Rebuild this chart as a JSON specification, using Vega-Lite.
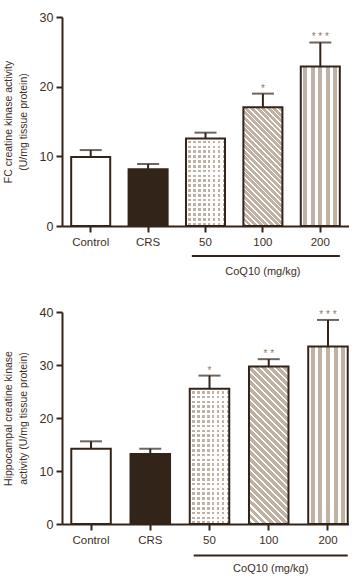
{
  "$schema": "https://vega.github.io/schema/vega-lite/v6.json",
  "autosize": {"type": "pad"},
  "padding": {"left": 3, "top": 11, "right": 0, "bottom": 0},
  "background": "#ffffff",
  "bounds": "flush",
  "spacing": 86,
  "config": {
    "view": {"stroke": null},
    "axis": {"domainColor": "#33241a", "domainWidth": 2, "tickColor": "#33241a", "tickWidth": 2, "labelFont": "Liberation Sans", "labelColor": "#3c2f27", "labelFontSize": 11.5, "titleFont": "Liberation Sans", "titleColor": "#3c2f27", "titleFontWeight": "normal", "grid": false},
    "text": {"font": "Liberation Sans"}
  },
  "vconcat": [
    {
      "width": 287,
      "height": 209,
      "data": {"values": [
        {"group": "Control", "value": 9.9, "hi": 10.9, "sig": ""},
        {"group": "CRS", "value": 8.15, "hi": 8.9, "sig": ""},
        {"group": "50", "value": 12.55, "hi": 13.4, "sig": ""},
        {"group": "100", "value": 17.05, "hi": 19.0, "sig": "*"},
        {"group": "200", "value": 22.9, "hi": 26.35, "sig": "* * *"}
      ]},
      "encoding": {
        "x": {"field": "group", "type": "nominal", "scale": {"domain": ["Control", "CRS", "50", "100", "200"], "paddingInner": 0.32, "paddingOuter": 0.16}, "axis": {"title": null, "labelAngle": 0, "tickSize": 6, "labelPadding": 4}},
        "y": {"field": "value", "type": "quantitative", "scale": {"domain": [0, 30]}, "axis": {"values": [0, 10, 20, 30], "tickSize": 6, "labelPadding": 3, "labelFontSize": 12.5, "title": ["FC creatine kinase activity", "(U/mg tissue protein)"], "titleFontSize": 10.5, "titlePadding": 11, "titleLineHeight": 15}}
      },
      "layer": [
        {"transform": [{"filter": "datum.group === 'Control' || datum.group === 'CRS'"}], "mark": {"type": "bar", "stroke": "#33241a", "strokeWidth": 2}, "encoding": {"fill": {"field": "group", "type": "nominal", "scale": {"domain": ["Control", "CRS"], "range": ["#ffffff", "#33241a"]}, "legend": null}}},
        {"transform": [{"filter": "datum.group === '50'"}], "mark": {"type": "bar", "fill": "#bfb1a3"}},
        {"transform": [{"filter": "datum.group === '50'"}], "mark": {"type": "bar", "fill": {"gradient": "linear", "x1": 0, "y1": 0, "x2": 0, "y2": 1.546, "stops": [
          {"offset": 0, "color": "#ffffff"}, {"offset": 0.016, "color": "#ffffff"}, {"offset": 0.016, "color": "rgba(255,255,255,0)"}, {"offset": 0.0357, "color": "rgba(255,255,255,0)"},
          {"offset": 0.0357, "color": "#ffffff"}, {"offset": 0.0517, "color": "#ffffff"}, {"offset": 0.0517, "color": "rgba(255,255,255,0)"}, {"offset": 0.0714, "color": "rgba(255,255,255,0)"},
          {"offset": 0.0714, "color": "#ffffff"}, {"offset": 0.0874, "color": "#ffffff"}, {"offset": 0.0874, "color": "rgba(255,255,255,0)"}, {"offset": 0.1071, "color": "rgba(255,255,255,0)"},
          {"offset": 0.1071, "color": "#ffffff"}, {"offset": 0.1231, "color": "#ffffff"}, {"offset": 0.1231, "color": "rgba(255,255,255,0)"}, {"offset": 0.1429, "color": "rgba(255,255,255,0)"},
          {"offset": 0.1429, "color": "#ffffff"}, {"offset": 0.1589, "color": "#ffffff"}, {"offset": 0.1589, "color": "rgba(255,255,255,0)"}, {"offset": 0.1786, "color": "rgba(255,255,255,0)"},
          {"offset": 0.1786, "color": "#ffffff"}, {"offset": 0.1946, "color": "#ffffff"}, {"offset": 0.1946, "color": "rgba(255,255,255,0)"}, {"offset": 0.2143, "color": "rgba(255,255,255,0)"},
          {"offset": 0.2143, "color": "#ffffff"}, {"offset": 0.2303, "color": "#ffffff"}, {"offset": 0.2303, "color": "rgba(255,255,255,0)"}, {"offset": 0.25, "color": "rgba(255,255,255,0)"},
          {"offset": 0.25, "color": "#ffffff"}, {"offset": 0.266, "color": "#ffffff"}, {"offset": 0.266, "color": "rgba(255,255,255,0)"}, {"offset": 0.2857, "color": "rgba(255,255,255,0)"},
          {"offset": 0.2857, "color": "#ffffff"}, {"offset": 0.3017, "color": "#ffffff"}, {"offset": 0.3017, "color": "rgba(255,255,255,0)"}, {"offset": 0.3214, "color": "rgba(255,255,255,0)"},
          {"offset": 0.3214, "color": "#ffffff"}, {"offset": 0.3374, "color": "#ffffff"}, {"offset": 0.3374, "color": "rgba(255,255,255,0)"}, {"offset": 0.3571, "color": "rgba(255,255,255,0)"},
          {"offset": 0.3571, "color": "#ffffff"}, {"offset": 0.3731, "color": "#ffffff"}, {"offset": 0.3731, "color": "rgba(255,255,255,0)"}, {"offset": 0.3929, "color": "rgba(255,255,255,0)"},
          {"offset": 0.3929, "color": "#ffffff"}, {"offset": 0.4089, "color": "#ffffff"}, {"offset": 0.4089, "color": "rgba(255,255,255,0)"}, {"offset": 0.4286, "color": "rgba(255,255,255,0)"},
          {"offset": 0.4286, "color": "#ffffff"}, {"offset": 0.4446, "color": "#ffffff"}, {"offset": 0.4446, "color": "rgba(255,255,255,0)"}, {"offset": 0.4643, "color": "rgba(255,255,255,0)"},
          {"offset": 0.4643, "color": "#ffffff"}, {"offset": 0.4803, "color": "#ffffff"}, {"offset": 0.4803, "color": "rgba(255,255,255,0)"}, {"offset": 0.5, "color": "rgba(255,255,255,0)"},
          {"offset": 0.5, "color": "#ffffff"}, {"offset": 0.516, "color": "#ffffff"}, {"offset": 0.516, "color": "rgba(255,255,255,0)"}, {"offset": 0.5357, "color": "rgba(255,255,255,0)"},
          {"offset": 0.5357, "color": "#ffffff"}, {"offset": 0.5517, "color": "#ffffff"}, {"offset": 0.5517, "color": "rgba(255,255,255,0)"}, {"offset": 0.5714, "color": "rgba(255,255,255,0)"},
          {"offset": 0.5714, "color": "#ffffff"}, {"offset": 0.5874, "color": "#ffffff"}, {"offset": 0.5874, "color": "rgba(255,255,255,0)"}, {"offset": 0.6071, "color": "rgba(255,255,255,0)"},
          {"offset": 0.6071, "color": "#ffffff"}, {"offset": 0.6231, "color": "#ffffff"}, {"offset": 0.6231, "color": "rgba(255,255,255,0)"}, {"offset": 0.6429, "color": "rgba(255,255,255,0)"},
          {"offset": 0.6429, "color": "#ffffff"}, {"offset": 0.6589, "color": "#ffffff"}, {"offset": 0.6589, "color": "rgba(255,255,255,0)"}, {"offset": 0.6786, "color": "rgba(255,255,255,0)"},
          {"offset": 0.6786, "color": "#ffffff"}, {"offset": 0.6946, "color": "#ffffff"}, {"offset": 0.6946, "color": "rgba(255,255,255,0)"}, {"offset": 0.7143, "color": "rgba(255,255,255,0)"},
          {"offset": 0.7143, "color": "#ffffff"}, {"offset": 0.7303, "color": "#ffffff"}, {"offset": 0.7303, "color": "rgba(255,255,255,0)"}, {"offset": 0.75, "color": "rgba(255,255,255,0)"},
          {"offset": 0.75, "color": "#ffffff"}, {"offset": 0.766, "color": "#ffffff"}, {"offset": 0.766, "color": "rgba(255,255,255,0)"}, {"offset": 0.7857, "color": "rgba(255,255,255,0)"},
          {"offset": 0.7857, "color": "#ffffff"}, {"offset": 0.8017, "color": "#ffffff"}, {"offset": 0.8017, "color": "rgba(255,255,255,0)"}, {"offset": 0.8214, "color": "rgba(255,255,255,0)"},
          {"offset": 0.8214, "color": "#ffffff"}, {"offset": 0.8374, "color": "#ffffff"}, {"offset": 0.8374, "color": "rgba(255,255,255,0)"}, {"offset": 0.8571, "color": "rgba(255,255,255,0)"},
          {"offset": 0.8571, "color": "#ffffff"}, {"offset": 0.8731, "color": "#ffffff"}, {"offset": 0.8731, "color": "rgba(255,255,255,0)"}, {"offset": 0.8929, "color": "rgba(255,255,255,0)"},
          {"offset": 0.8929, "color": "#ffffff"}, {"offset": 0.9089, "color": "#ffffff"}, {"offset": 0.9089, "color": "rgba(255,255,255,0)"}, {"offset": 0.9286, "color": "rgba(255,255,255,0)"},
          {"offset": 0.9286, "color": "#ffffff"}, {"offset": 0.9446, "color": "#ffffff"}, {"offset": 0.9446, "color": "rgba(255,255,255,0)"}, {"offset": 0.9643, "color": "rgba(255,255,255,0)"},
          {"offset": 0.9643, "color": "#ffffff"}, {"offset": 0.9803, "color": "#ffffff"}, {"offset": 0.9803, "color": "rgba(255,255,255,0)"}, {"offset": 1, "color": "rgba(255,255,255,0)"}
        ]}}},
        {"transform": [{"filter": "datum.group === '50'"}], "mark": {"type": "bar", "stroke": "#33241a", "strokeWidth": 2, "fill": {"gradient": "linear", "x1": 0, "y1": 0, "x2": 1, "y2": 0, "stops": [
          {"offset": 0, "color": "#ffffff"}, {"offset": 0.061, "color": "#ffffff"}, {"offset": 0.061, "color": "rgba(255,255,255,0)"}, {"offset": 0.125, "color": "rgba(255,255,255,0)"},
          {"offset": 0.125, "color": "#ffffff"}, {"offset": 0.186, "color": "#ffffff"}, {"offset": 0.186, "color": "rgba(255,255,255,0)"}, {"offset": 0.25, "color": "rgba(255,255,255,0)"},
          {"offset": 0.25, "color": "#ffffff"}, {"offset": 0.311, "color": "#ffffff"}, {"offset": 0.311, "color": "rgba(255,255,255,0)"}, {"offset": 0.375, "color": "rgba(255,255,255,0)"},
          {"offset": 0.375, "color": "#ffffff"}, {"offset": 0.436, "color": "#ffffff"}, {"offset": 0.436, "color": "rgba(255,255,255,0)"}, {"offset": 0.5, "color": "rgba(255,255,255,0)"},
          {"offset": 0.5, "color": "#ffffff"}, {"offset": 0.561, "color": "#ffffff"}, {"offset": 0.561, "color": "rgba(255,255,255,0)"}, {"offset": 0.625, "color": "rgba(255,255,255,0)"},
          {"offset": 0.625, "color": "#ffffff"}, {"offset": 0.686, "color": "#ffffff"}, {"offset": 0.686, "color": "rgba(255,255,255,0)"}, {"offset": 0.75, "color": "rgba(255,255,255,0)"},
          {"offset": 0.75, "color": "#ffffff"}, {"offset": 0.811, "color": "#ffffff"}, {"offset": 0.811, "color": "rgba(255,255,255,0)"}, {"offset": 0.875, "color": "rgba(255,255,255,0)"},
          {"offset": 0.875, "color": "#ffffff"}, {"offset": 0.936, "color": "#ffffff"}, {"offset": 0.936, "color": "rgba(255,255,255,0)"}, {"offset": 1, "color": "rgba(255,255,255,0)"}
        ]}}},
        {"transform": [{"filter": "datum.group === '100'"}], "mark": {"type": "bar", "stroke": "#33241a", "strokeWidth": 2, "fill": {"gradient": "linear", "x1": 0, "y1": 1, "x2": 0.3946, "y2": -0.1995, "stops": [
          {"offset": 0, "color": "#bfb1a3"}, {"offset": 0.025, "color": "#bfb1a3"}, {"offset": 0.025, "color": "#ffffff"}, {"offset": 0.0357, "color": "#ffffff"},
          {"offset": 0.0357, "color": "#bfb1a3"}, {"offset": 0.0607, "color": "#bfb1a3"}, {"offset": 0.0607, "color": "#ffffff"}, {"offset": 0.0714, "color": "#ffffff"},
          {"offset": 0.0714, "color": "#bfb1a3"}, {"offset": 0.0964, "color": "#bfb1a3"}, {"offset": 0.0964, "color": "#ffffff"}, {"offset": 0.1071, "color": "#ffffff"},
          {"offset": 0.1071, "color": "#bfb1a3"}, {"offset": 0.1321, "color": "#bfb1a3"}, {"offset": 0.1321, "color": "#ffffff"}, {"offset": 0.1429, "color": "#ffffff"},
          {"offset": 0.1429, "color": "#bfb1a3"}, {"offset": 0.1679, "color": "#bfb1a3"}, {"offset": 0.1679, "color": "#ffffff"}, {"offset": 0.1786, "color": "#ffffff"},
          {"offset": 0.1786, "color": "#bfb1a3"}, {"offset": 0.2036, "color": "#bfb1a3"}, {"offset": 0.2036, "color": "#ffffff"}, {"offset": 0.2143, "color": "#ffffff"},
          {"offset": 0.2143, "color": "#bfb1a3"}, {"offset": 0.2393, "color": "#bfb1a3"}, {"offset": 0.2393, "color": "#ffffff"}, {"offset": 0.25, "color": "#ffffff"},
          {"offset": 0.25, "color": "#bfb1a3"}, {"offset": 0.275, "color": "#bfb1a3"}, {"offset": 0.275, "color": "#ffffff"}, {"offset": 0.2857, "color": "#ffffff"},
          {"offset": 0.2857, "color": "#bfb1a3"}, {"offset": 0.3107, "color": "#bfb1a3"}, {"offset": 0.3107, "color": "#ffffff"}, {"offset": 0.3214, "color": "#ffffff"},
          {"offset": 0.3214, "color": "#bfb1a3"}, {"offset": 0.3464, "color": "#bfb1a3"}, {"offset": 0.3464, "color": "#ffffff"}, {"offset": 0.3571, "color": "#ffffff"},
          {"offset": 0.3571, "color": "#bfb1a3"}, {"offset": 0.3821, "color": "#bfb1a3"}, {"offset": 0.3821, "color": "#ffffff"}, {"offset": 0.3929, "color": "#ffffff"},
          {"offset": 0.3929, "color": "#bfb1a3"}, {"offset": 0.4179, "color": "#bfb1a3"}, {"offset": 0.4179, "color": "#ffffff"}, {"offset": 0.4286, "color": "#ffffff"},
          {"offset": 0.4286, "color": "#bfb1a3"}, {"offset": 0.4536, "color": "#bfb1a3"}, {"offset": 0.4536, "color": "#ffffff"}, {"offset": 0.4643, "color": "#ffffff"},
          {"offset": 0.4643, "color": "#bfb1a3"}, {"offset": 0.4893, "color": "#bfb1a3"}, {"offset": 0.4893, "color": "#ffffff"}, {"offset": 0.5, "color": "#ffffff"},
          {"offset": 0.5, "color": "#bfb1a3"}, {"offset": 0.525, "color": "#bfb1a3"}, {"offset": 0.525, "color": "#ffffff"}, {"offset": 0.5357, "color": "#ffffff"},
          {"offset": 0.5357, "color": "#bfb1a3"}, {"offset": 0.5607, "color": "#bfb1a3"}, {"offset": 0.5607, "color": "#ffffff"}, {"offset": 0.5714, "color": "#ffffff"},
          {"offset": 0.5714, "color": "#bfb1a3"}, {"offset": 0.5964, "color": "#bfb1a3"}, {"offset": 0.5964, "color": "#ffffff"}, {"offset": 0.6071, "color": "#ffffff"},
          {"offset": 0.6071, "color": "#bfb1a3"}, {"offset": 0.6321, "color": "#bfb1a3"}, {"offset": 0.6321, "color": "#ffffff"}, {"offset": 0.6429, "color": "#ffffff"},
          {"offset": 0.6429, "color": "#bfb1a3"}, {"offset": 0.6679, "color": "#bfb1a3"}, {"offset": 0.6679, "color": "#ffffff"}, {"offset": 0.6786, "color": "#ffffff"},
          {"offset": 0.6786, "color": "#bfb1a3"}, {"offset": 0.7036, "color": "#bfb1a3"}, {"offset": 0.7036, "color": "#ffffff"}, {"offset": 0.7143, "color": "#ffffff"},
          {"offset": 0.7143, "color": "#bfb1a3"}, {"offset": 0.7393, "color": "#bfb1a3"}, {"offset": 0.7393, "color": "#ffffff"}, {"offset": 0.75, "color": "#ffffff"},
          {"offset": 0.75, "color": "#bfb1a3"}, {"offset": 0.775, "color": "#bfb1a3"}, {"offset": 0.775, "color": "#ffffff"}, {"offset": 0.7857, "color": "#ffffff"},
          {"offset": 0.7857, "color": "#bfb1a3"}, {"offset": 0.8107, "color": "#bfb1a3"}, {"offset": 0.8107, "color": "#ffffff"}, {"offset": 0.8214, "color": "#ffffff"},
          {"offset": 0.8214, "color": "#bfb1a3"}, {"offset": 0.8464, "color": "#bfb1a3"}, {"offset": 0.8464, "color": "#ffffff"}, {"offset": 0.8571, "color": "#ffffff"},
          {"offset": 0.8571, "color": "#bfb1a3"}, {"offset": 0.8821, "color": "#bfb1a3"}, {"offset": 0.8821, "color": "#ffffff"}, {"offset": 0.8929, "color": "#ffffff"},
          {"offset": 0.8929, "color": "#bfb1a3"}, {"offset": 0.9179, "color": "#bfb1a3"}, {"offset": 0.9179, "color": "#ffffff"}, {"offset": 0.9286, "color": "#ffffff"},
          {"offset": 0.9286, "color": "#bfb1a3"}, {"offset": 0.9536, "color": "#bfb1a3"}, {"offset": 0.9536, "color": "#ffffff"}, {"offset": 0.9643, "color": "#ffffff"},
          {"offset": 0.9643, "color": "#bfb1a3"}, {"offset": 0.9893, "color": "#bfb1a3"}, {"offset": 0.9893, "color": "#ffffff"}, {"offset": 1, "color": "#ffffff"}
        ]}}},
        {"transform": [{"filter": "datum.group === '200'"}], "mark": {"type": "bar", "stroke": "#33241a", "strokeWidth": 2, "fill": {"gradient": "linear", "x1": 0, "y1": 0, "x2": 1, "y2": 0, "stops": [
          {"offset": 0, "color": "#ffffff"}, {"offset": 0.064, "color": "#ffffff"}, {"offset": 0.064, "color": "#bfb1a3"}, {"offset": 0.167, "color": "#bfb1a3"},
          {"offset": 0.167, "color": "#ffffff"}, {"offset": 0.256, "color": "#ffffff"}, {"offset": 0.256, "color": "#bfb1a3"}, {"offset": 0.359, "color": "#bfb1a3"},
          {"offset": 0.359, "color": "#ffffff"}, {"offset": 0.449, "color": "#ffffff"}, {"offset": 0.449, "color": "#bfb1a3"}, {"offset": 0.551, "color": "#bfb1a3"},
          {"offset": 0.551, "color": "#ffffff"}, {"offset": 0.641, "color": "#ffffff"}, {"offset": 0.641, "color": "#bfb1a3"}, {"offset": 0.744, "color": "#bfb1a3"},
          {"offset": 0.744, "color": "#ffffff"}, {"offset": 0.833, "color": "#ffffff"}, {"offset": 0.833, "color": "#bfb1a3"}, {"offset": 0.936, "color": "#bfb1a3"},
          {"offset": 0.936, "color": "#ffffff"}, {"offset": 1, "color": "#ffffff"}
        ]}}},
        {"mark": {"type": "rule", "color": "#33241a", "strokeWidth": 2}, "encoding": {"y2": {"field": "hi"}}},
        {"mark": {"type": "tick", "color": "#33241a", "thickness": 2, "size": 22}, "encoding": {"y": {"field": "hi", "type": "quantitative"}}},
        {"mark": {"type": "text", "baseline": "alphabetic", "dy": -2, "fontSize": 10, "color": "#8a7c70"}, "encoding": {"y": {"field": "hi", "type": "quantitative"}, "text": {"field": "sig"}}},
        {"transform": [{"filter": "datum.group === '200'"}], "mark": {"type": "rule", "color": "#33241a", "strokeWidth": 2}, "encoding": {"x": {"field": "group", "type": "nominal", "bandPosition": 1}, "x2": {"datum": "50", "bandPosition": 0.15}, "y": {"datum": -4.3}}},
        {"transform": [{"filter": "datum.group === '100'"}], "mark": {"type": "text", "fontSize": 11, "baseline": "middle", "color": "#3c2f27"}, "encoding": {"y": {"datum": -6.6}, "text": {"value": "CoQ10 (mg/kg)"}}}
      ]
    },
    {
      "width": 287,
      "height": 212,
      "data": {"values": [
        {"group": "Control", "value": 14.2, "hi": 15.6, "sig": ""},
        {"group": "CRS", "value": 13.2, "hi": 14.2, "sig": ""},
        {"group": "50", "value": 25.5, "hi": 28.0, "sig": "*"},
        {"group": "100", "value": 29.7, "hi": 31.1, "sig": "* *"},
        {"group": "200", "value": 33.5, "hi": 38.5, "sig": "* * *"}
      ]},
      "encoding": {
        "x": {"field": "group", "type": "nominal", "scale": {"domain": ["Control", "CRS", "50", "100", "200"], "paddingInner": 0.333, "paddingOuter": 0.089, "align": 0.88}, "axis": {"title": null, "labelAngle": 0, "tickSize": 6, "labelPadding": 4}},
        "y": {"field": "value", "type": "quantitative", "scale": {"domain": [0, 40]}, "axis": {"values": [0, 10, 20, 30, 40], "tickSize": 6, "labelPadding": 3, "labelFontSize": 12.5, "title": ["Hippocampal creatine kinase", "activity (U/mg tissue protein)"], "titleFontSize": 10.5, "titlePadding": 11, "titleLineHeight": 15}}
      },
      "layer": [
        {"transform": [{"filter": "datum.group === 'Control' || datum.group === 'CRS'"}], "mark": {"type": "bar", "stroke": "#33241a", "strokeWidth": 2}, "encoding": {"fill": {"field": "group", "type": "nominal", "scale": {"domain": ["Control", "CRS"], "range": ["#ffffff", "#33241a"]}, "legend": null}}},
        {"transform": [{"filter": "datum.group === '50'"}], "mark": {"type": "bar", "fill": "#bfb1a3"}},
        {"transform": [{"filter": "datum.group === '50'"}], "mark": {"type": "bar", "fill": {"gradient": "linear", "x1": 0, "y1": 0, "x2": 0, "y2": 1, "stops": [
          {"offset": 0, "color": "#ffffff"}, {"offset": 0.016, "color": "#ffffff"}, {"offset": 0.016, "color": "rgba(255,255,255,0)"}, {"offset": 0.0357, "color": "rgba(255,255,255,0)"},
          {"offset": 0.0357, "color": "#ffffff"}, {"offset": 0.0517, "color": "#ffffff"}, {"offset": 0.0517, "color": "rgba(255,255,255,0)"}, {"offset": 0.0714, "color": "rgba(255,255,255,0)"},
          {"offset": 0.0714, "color": "#ffffff"}, {"offset": 0.0874, "color": "#ffffff"}, {"offset": 0.0874, "color": "rgba(255,255,255,0)"}, {"offset": 0.1071, "color": "rgba(255,255,255,0)"},
          {"offset": 0.1071, "color": "#ffffff"}, {"offset": 0.1231, "color": "#ffffff"}, {"offset": 0.1231, "color": "rgba(255,255,255,0)"}, {"offset": 0.1429, "color": "rgba(255,255,255,0)"},
          {"offset": 0.1429, "color": "#ffffff"}, {"offset": 0.1589, "color": "#ffffff"}, {"offset": 0.1589, "color": "rgba(255,255,255,0)"}, {"offset": 0.1786, "color": "rgba(255,255,255,0)"},
          {"offset": 0.1786, "color": "#ffffff"}, {"offset": 0.1946, "color": "#ffffff"}, {"offset": 0.1946, "color": "rgba(255,255,255,0)"}, {"offset": 0.2143, "color": "rgba(255,255,255,0)"},
          {"offset": 0.2143, "color": "#ffffff"}, {"offset": 0.2303, "color": "#ffffff"}, {"offset": 0.2303, "color": "rgba(255,255,255,0)"}, {"offset": 0.25, "color": "rgba(255,255,255,0)"},
          {"offset": 0.25, "color": "#ffffff"}, {"offset": 0.266, "color": "#ffffff"}, {"offset": 0.266, "color": "rgba(255,255,255,0)"}, {"offset": 0.2857, "color": "rgba(255,255,255,0)"},
          {"offset": 0.2857, "color": "#ffffff"}, {"offset": 0.3017, "color": "#ffffff"}, {"offset": 0.3017, "color": "rgba(255,255,255,0)"}, {"offset": 0.3214, "color": "rgba(255,255,255,0)"},
          {"offset": 0.3214, "color": "#ffffff"}, {"offset": 0.3374, "color": "#ffffff"}, {"offset": 0.3374, "color": "rgba(255,255,255,0)"}, {"offset": 0.3571, "color": "rgba(255,255,255,0)"},
          {"offset": 0.3571, "color": "#ffffff"}, {"offset": 0.3731, "color": "#ffffff"}, {"offset": 0.3731, "color": "rgba(255,255,255,0)"}, {"offset": 0.3929, "color": "rgba(255,255,255,0)"},
          {"offset": 0.3929, "color": "#ffffff"}, {"offset": 0.4089, "color": "#ffffff"}, {"offset": 0.4089, "color": "rgba(255,255,255,0)"}, {"offset": 0.4286, "color": "rgba(255,255,255,0)"},
          {"offset": 0.4286, "color": "#ffffff"}, {"offset": 0.4446, "color": "#ffffff"}, {"offset": 0.4446, "color": "rgba(255,255,255,0)"}, {"offset": 0.4643, "color": "rgba(255,255,255,0)"},
          {"offset": 0.4643, "color": "#ffffff"}, {"offset": 0.4803, "color": "#ffffff"}, {"offset": 0.4803, "color": "rgba(255,255,255,0)"}, {"offset": 0.5, "color": "rgba(255,255,255,0)"},
          {"offset": 0.5, "color": "#ffffff"}, {"offset": 0.516, "color": "#ffffff"}, {"offset": 0.516, "color": "rgba(255,255,255,0)"}, {"offset": 0.5357, "color": "rgba(255,255,255,0)"},
          {"offset": 0.5357, "color": "#ffffff"}, {"offset": 0.5517, "color": "#ffffff"}, {"offset": 0.5517, "color": "rgba(255,255,255,0)"}, {"offset": 0.5714, "color": "rgba(255,255,255,0)"},
          {"offset": 0.5714, "color": "#ffffff"}, {"offset": 0.5874, "color": "#ffffff"}, {"offset": 0.5874, "color": "rgba(255,255,255,0)"}, {"offset": 0.6071, "color": "rgba(255,255,255,0)"},
          {"offset": 0.6071, "color": "#ffffff"}, {"offset": 0.6231, "color": "#ffffff"}, {"offset": 0.6231, "color": "rgba(255,255,255,0)"}, {"offset": 0.6429, "color": "rgba(255,255,255,0)"},
          {"offset": 0.6429, "color": "#ffffff"}, {"offset": 0.6589, "color": "#ffffff"}, {"offset": 0.6589, "color": "rgba(255,255,255,0)"}, {"offset": 0.6786, "color": "rgba(255,255,255,0)"},
          {"offset": 0.6786, "color": "#ffffff"}, {"offset": 0.6946, "color": "#ffffff"}, {"offset": 0.6946, "color": "rgba(255,255,255,0)"}, {"offset": 0.7143, "color": "rgba(255,255,255,0)"},
          {"offset": 0.7143, "color": "#ffffff"}, {"offset": 0.7303, "color": "#ffffff"}, {"offset": 0.7303, "color": "rgba(255,255,255,0)"}, {"offset": 0.75, "color": "rgba(255,255,255,0)"},
          {"offset": 0.75, "color": "#ffffff"}, {"offset": 0.766, "color": "#ffffff"}, {"offset": 0.766, "color": "rgba(255,255,255,0)"}, {"offset": 0.7857, "color": "rgba(255,255,255,0)"},
          {"offset": 0.7857, "color": "#ffffff"}, {"offset": 0.8017, "color": "#ffffff"}, {"offset": 0.8017, "color": "rgba(255,255,255,0)"}, {"offset": 0.8214, "color": "rgba(255,255,255,0)"},
          {"offset": 0.8214, "color": "#ffffff"}, {"offset": 0.8374, "color": "#ffffff"}, {"offset": 0.8374, "color": "rgba(255,255,255,0)"}, {"offset": 0.8571, "color": "rgba(255,255,255,0)"},
          {"offset": 0.8571, "color": "#ffffff"}, {"offset": 0.8731, "color": "#ffffff"}, {"offset": 0.8731, "color": "rgba(255,255,255,0)"}, {"offset": 0.8929, "color": "rgba(255,255,255,0)"},
          {"offset": 0.8929, "color": "#ffffff"}, {"offset": 0.9089, "color": "#ffffff"}, {"offset": 0.9089, "color": "rgba(255,255,255,0)"}, {"offset": 0.9286, "color": "rgba(255,255,255,0)"},
          {"offset": 0.9286, "color": "#ffffff"}, {"offset": 0.9446, "color": "#ffffff"}, {"offset": 0.9446, "color": "rgba(255,255,255,0)"}, {"offset": 0.9643, "color": "rgba(255,255,255,0)"},
          {"offset": 0.9643, "color": "#ffffff"}, {"offset": 0.9803, "color": "#ffffff"}, {"offset": 0.9803, "color": "rgba(255,255,255,0)"}, {"offset": 1, "color": "rgba(255,255,255,0)"}
        ]}}},
        {"transform": [{"filter": "datum.group === '50'"}], "mark": {"type": "bar", "stroke": "#33241a", "strokeWidth": 2, "fill": {"gradient": "linear", "x1": 0, "y1": 0, "x2": 1, "y2": 0, "stops": [
          {"offset": 0, "color": "#ffffff"}, {"offset": 0.061, "color": "#ffffff"}, {"offset": 0.061, "color": "rgba(255,255,255,0)"}, {"offset": 0.125, "color": "rgba(255,255,255,0)"},
          {"offset": 0.125, "color": "#ffffff"}, {"offset": 0.186, "color": "#ffffff"}, {"offset": 0.186, "color": "rgba(255,255,255,0)"}, {"offset": 0.25, "color": "rgba(255,255,255,0)"},
          {"offset": 0.25, "color": "#ffffff"}, {"offset": 0.311, "color": "#ffffff"}, {"offset": 0.311, "color": "rgba(255,255,255,0)"}, {"offset": 0.375, "color": "rgba(255,255,255,0)"},
          {"offset": 0.375, "color": "#ffffff"}, {"offset": 0.436, "color": "#ffffff"}, {"offset": 0.436, "color": "rgba(255,255,255,0)"}, {"offset": 0.5, "color": "rgba(255,255,255,0)"},
          {"offset": 0.5, "color": "#ffffff"}, {"offset": 0.561, "color": "#ffffff"}, {"offset": 0.561, "color": "rgba(255,255,255,0)"}, {"offset": 0.625, "color": "rgba(255,255,255,0)"},
          {"offset": 0.625, "color": "#ffffff"}, {"offset": 0.686, "color": "#ffffff"}, {"offset": 0.686, "color": "rgba(255,255,255,0)"}, {"offset": 0.75, "color": "rgba(255,255,255,0)"},
          {"offset": 0.75, "color": "#ffffff"}, {"offset": 0.811, "color": "#ffffff"}, {"offset": 0.811, "color": "rgba(255,255,255,0)"}, {"offset": 0.875, "color": "rgba(255,255,255,0)"},
          {"offset": 0.875, "color": "#ffffff"}, {"offset": 0.936, "color": "#ffffff"}, {"offset": 0.936, "color": "rgba(255,255,255,0)"}, {"offset": 1, "color": "rgba(255,255,255,0)"}
        ]}}},
        {"transform": [{"filter": "datum.group === '100'"}], "mark": {"type": "bar", "stroke": "#33241a", "strokeWidth": 2, "fill": {"gradient": "linear", "x1": 0, "y1": 1, "x2": 0.2953, "y2": -0.1768, "stops": [
          {"offset": 0, "color": "#bfb1a3"}, {"offset": 0.025, "color": "#bfb1a3"}, {"offset": 0.025, "color": "#ffffff"}, {"offset": 0.0357, "color": "#ffffff"},
          {"offset": 0.0357, "color": "#bfb1a3"}, {"offset": 0.0607, "color": "#bfb1a3"}, {"offset": 0.0607, "color": "#ffffff"}, {"offset": 0.0714, "color": "#ffffff"},
          {"offset": 0.0714, "color": "#bfb1a3"}, {"offset": 0.0964, "color": "#bfb1a3"}, {"offset": 0.0964, "color": "#ffffff"}, {"offset": 0.1071, "color": "#ffffff"},
          {"offset": 0.1071, "color": "#bfb1a3"}, {"offset": 0.1321, "color": "#bfb1a3"}, {"offset": 0.1321, "color": "#ffffff"}, {"offset": 0.1429, "color": "#ffffff"},
          {"offset": 0.1429, "color": "#bfb1a3"}, {"offset": 0.1679, "color": "#bfb1a3"}, {"offset": 0.1679, "color": "#ffffff"}, {"offset": 0.1786, "color": "#ffffff"},
          {"offset": 0.1786, "color": "#bfb1a3"}, {"offset": 0.2036, "color": "#bfb1a3"}, {"offset": 0.2036, "color": "#ffffff"}, {"offset": 0.2143, "color": "#ffffff"},
          {"offset": 0.2143, "color": "#bfb1a3"}, {"offset": 0.2393, "color": "#bfb1a3"}, {"offset": 0.2393, "color": "#ffffff"}, {"offset": 0.25, "color": "#ffffff"},
          {"offset": 0.25, "color": "#bfb1a3"}, {"offset": 0.275, "color": "#bfb1a3"}, {"offset": 0.275, "color": "#ffffff"}, {"offset": 0.2857, "color": "#ffffff"},
          {"offset": 0.2857, "color": "#bfb1a3"}, {"offset": 0.3107, "color": "#bfb1a3"}, {"offset": 0.3107, "color": "#ffffff"}, {"offset": 0.3214, "color": "#ffffff"},
          {"offset": 0.3214, "color": "#bfb1a3"}, {"offset": 0.3464, "color": "#bfb1a3"}, {"offset": 0.3464, "color": "#ffffff"}, {"offset": 0.3571, "color": "#ffffff"},
          {"offset": 0.3571, "color": "#bfb1a3"}, {"offset": 0.3821, "color": "#bfb1a3"}, {"offset": 0.3821, "color": "#ffffff"}, {"offset": 0.3929, "color": "#ffffff"},
          {"offset": 0.3929, "color": "#bfb1a3"}, {"offset": 0.4179, "color": "#bfb1a3"}, {"offset": 0.4179, "color": "#ffffff"}, {"offset": 0.4286, "color": "#ffffff"},
          {"offset": 0.4286, "color": "#bfb1a3"}, {"offset": 0.4536, "color": "#bfb1a3"}, {"offset": 0.4536, "color": "#ffffff"}, {"offset": 0.4643, "color": "#ffffff"},
          {"offset": 0.4643, "color": "#bfb1a3"}, {"offset": 0.4893, "color": "#bfb1a3"}, {"offset": 0.4893, "color": "#ffffff"}, {"offset": 0.5, "color": "#ffffff"},
          {"offset": 0.5, "color": "#bfb1a3"}, {"offset": 0.525, "color": "#bfb1a3"}, {"offset": 0.525, "color": "#ffffff"}, {"offset": 0.5357, "color": "#ffffff"},
          {"offset": 0.5357, "color": "#bfb1a3"}, {"offset": 0.5607, "color": "#bfb1a3"}, {"offset": 0.5607, "color": "#ffffff"}, {"offset": 0.5714, "color": "#ffffff"},
          {"offset": 0.5714, "color": "#bfb1a3"}, {"offset": 0.5964, "color": "#bfb1a3"}, {"offset": 0.5964, "color": "#ffffff"}, {"offset": 0.6071, "color": "#ffffff"},
          {"offset": 0.6071, "color": "#bfb1a3"}, {"offset": 0.6321, "color": "#bfb1a3"}, {"offset": 0.6321, "color": "#ffffff"}, {"offset": 0.6429, "color": "#ffffff"},
          {"offset": 0.6429, "color": "#bfb1a3"}, {"offset": 0.6679, "color": "#bfb1a3"}, {"offset": 0.6679, "color": "#ffffff"}, {"offset": 0.6786, "color": "#ffffff"},
          {"offset": 0.6786, "color": "#bfb1a3"}, {"offset": 0.7036, "color": "#bfb1a3"}, {"offset": 0.7036, "color": "#ffffff"}, {"offset": 0.7143, "color": "#ffffff"},
          {"offset": 0.7143, "color": "#bfb1a3"}, {"offset": 0.7393, "color": "#bfb1a3"}, {"offset": 0.7393, "color": "#ffffff"}, {"offset": 0.75, "color": "#ffffff"},
          {"offset": 0.75, "color": "#bfb1a3"}, {"offset": 0.775, "color": "#bfb1a3"}, {"offset": 0.775, "color": "#ffffff"}, {"offset": 0.7857, "color": "#ffffff"},
          {"offset": 0.7857, "color": "#bfb1a3"}, {"offset": 0.8107, "color": "#bfb1a3"}, {"offset": 0.8107, "color": "#ffffff"}, {"offset": 0.8214, "color": "#ffffff"},
          {"offset": 0.8214, "color": "#bfb1a3"}, {"offset": 0.8464, "color": "#bfb1a3"}, {"offset": 0.8464, "color": "#ffffff"}, {"offset": 0.8571, "color": "#ffffff"},
          {"offset": 0.8571, "color": "#bfb1a3"}, {"offset": 0.8821, "color": "#bfb1a3"}, {"offset": 0.8821, "color": "#ffffff"}, {"offset": 0.8929, "color": "#ffffff"},
          {"offset": 0.8929, "color": "#bfb1a3"}, {"offset": 0.9179, "color": "#bfb1a3"}, {"offset": 0.9179, "color": "#ffffff"}, {"offset": 0.9286, "color": "#ffffff"},
          {"offset": 0.9286, "color": "#bfb1a3"}, {"offset": 0.9536, "color": "#bfb1a3"}, {"offset": 0.9536, "color": "#ffffff"}, {"offset": 0.9643, "color": "#ffffff"},
          {"offset": 0.9643, "color": "#bfb1a3"}, {"offset": 0.9893, "color": "#bfb1a3"}, {"offset": 0.9893, "color": "#ffffff"}, {"offset": 1, "color": "#ffffff"}
        ]}}},
        {"transform": [{"filter": "datum.group === '200'"}], "mark": {"type": "bar", "stroke": "#33241a", "strokeWidth": 2, "fill": {"gradient": "linear", "x1": 0, "y1": 0, "x2": 1, "y2": 0, "stops": [
          {"offset": 0, "color": "#ffffff"}, {"offset": 0.064, "color": "#ffffff"}, {"offset": 0.064, "color": "#bfb1a3"}, {"offset": 0.167, "color": "#bfb1a3"},
          {"offset": 0.167, "color": "#ffffff"}, {"offset": 0.256, "color": "#ffffff"}, {"offset": 0.256, "color": "#bfb1a3"}, {"offset": 0.359, "color": "#bfb1a3"},
          {"offset": 0.359, "color": "#ffffff"}, {"offset": 0.449, "color": "#ffffff"}, {"offset": 0.449, "color": "#bfb1a3"}, {"offset": 0.551, "color": "#bfb1a3"},
          {"offset": 0.551, "color": "#ffffff"}, {"offset": 0.641, "color": "#ffffff"}, {"offset": 0.641, "color": "#bfb1a3"}, {"offset": 0.744, "color": "#bfb1a3"},
          {"offset": 0.744, "color": "#ffffff"}, {"offset": 0.833, "color": "#ffffff"}, {"offset": 0.833, "color": "#bfb1a3"}, {"offset": 0.936, "color": "#bfb1a3"},
          {"offset": 0.936, "color": "#ffffff"}, {"offset": 1, "color": "#ffffff"}
        ]}}},
        {"mark": {"type": "rule", "color": "#33241a", "strokeWidth": 2}, "encoding": {"y2": {"field": "hi"}}},
        {"mark": {"type": "tick", "color": "#33241a", "thickness": 2, "size": 22}, "encoding": {"y": {"field": "hi", "type": "quantitative"}}},
        {"mark": {"type": "text", "baseline": "alphabetic", "dy": -2, "fontSize": 10, "color": "#8a7c70"}, "encoding": {"y": {"field": "hi", "type": "quantitative"}, "text": {"field": "sig"}}},
        {"transform": [{"filter": "datum.group === '200'"}], "mark": {"type": "rule", "color": "#33241a", "strokeWidth": 2}, "encoding": {"x": {"field": "group", "type": "nominal", "bandPosition": 1}, "x2": {"datum": "50", "bandPosition": 0.1}, "y": {"datum": -5.92}}},
        {"transform": [{"filter": "datum.group === '100'"}], "mark": {"type": "text", "fontSize": 11, "baseline": "middle", "color": "#3c2f27"}, "encoding": {"x": {"field": "group", "type": "nominal", "bandPosition": 0.55}, "y": {"datum": -8.5}, "text": {"value": "CoQ10 (mg/kg)"}}}
      ]
    }
  ]
}
